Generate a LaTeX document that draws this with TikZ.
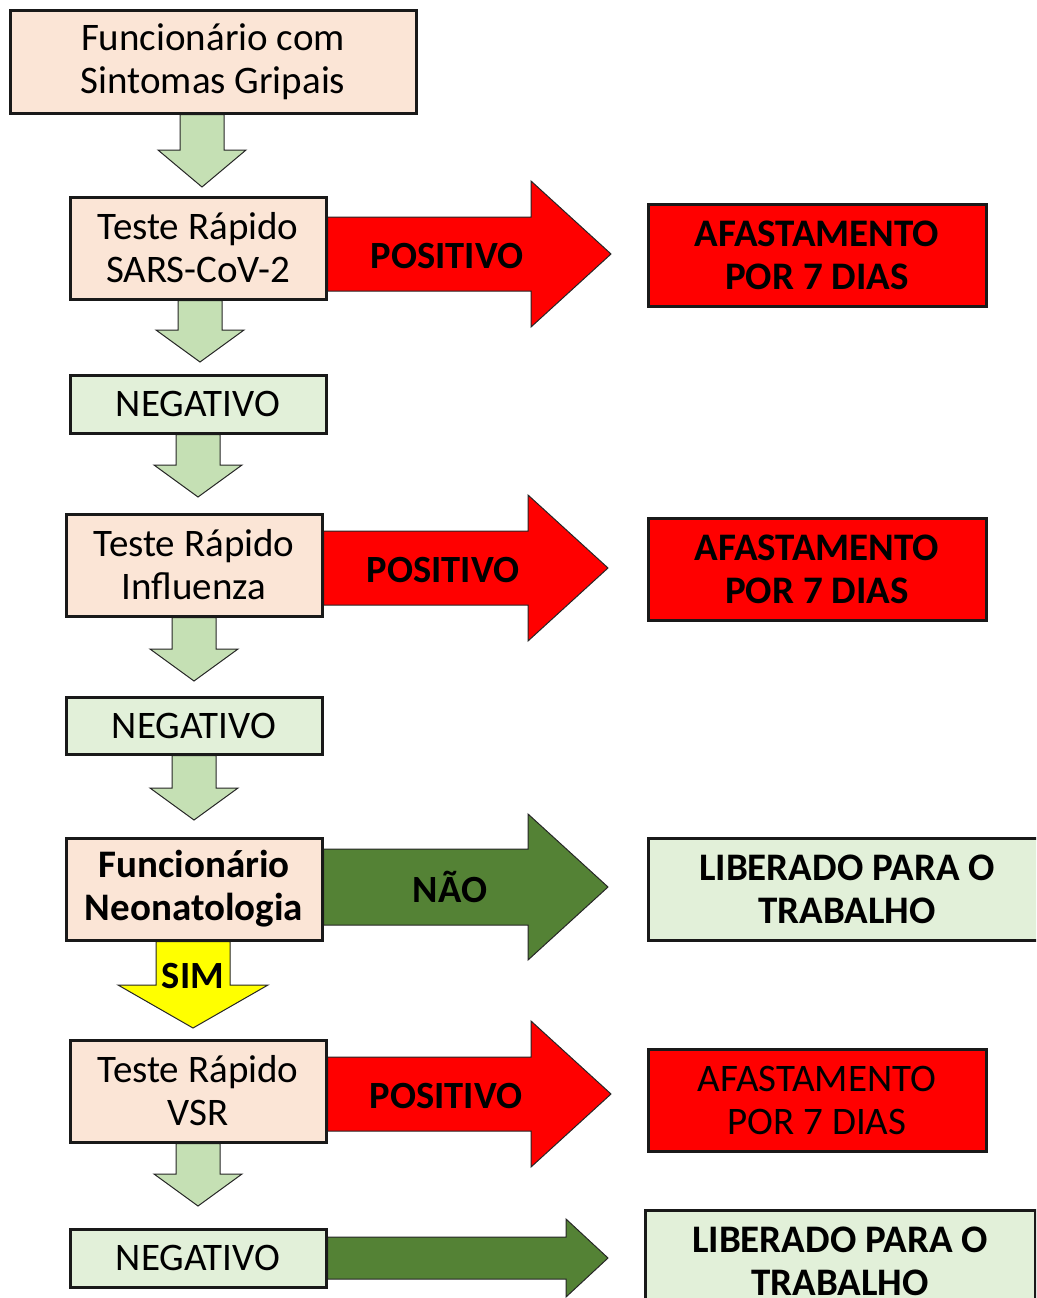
\documentclass[tikz,border=0pt]{standalone}
\usepackage{fontspec}
\setmainfont{Carlito}
\usetikzlibrary{calc,backgrounds}
\definecolor{peach}{HTML}{FBE5D6}
\definecolor{lgreen}{HTML}{E2F0D9}
\definecolor{agreen}{HTML}{C5E0B4}
\definecolor{dgreen}{HTML}{548235}
\definecolor{pred}{HTML}{FF0000}
\definecolor{pyellow}{HTML}{FFFF00}
% vertical block arrow: style, start, tip, shaft half, head half, head length
\newcommand{\vblock}[6]{%
  \draw[#1] let \p1=(#2), \p2=(#3) in
    (\x1-#4pt,\y1) -- (\x1-#4pt,\y2+#6pt) -- (\x1-#5pt,\y2+#6pt) -- (\x1,\y2)
    -- (\x1+#5pt,\y2+#6pt) -- (\x1+#4pt,\y2+#6pt) -- (\x1+#4pt,\y1) -- cycle;}
% horizontal block arrow: style, start, tip, shaft half, head half, head length
\newcommand{\hblock}[6]{%
  \draw[#1] let \p1=(#2), \p2=(#3) in
    (\x1,\y1+#4pt) -- (\x2-#6pt,\y1+#4pt) -- (\x2-#6pt,\y1+#5pt) -- (\x2,\y1)
    -- (\x2-#6pt,\y1-#5pt) -- (\x2-#6pt,\y1-#4pt) -- (\x1,\y1-#4pt) -- cycle;}
\tikzset{
  box/.style={draw=black!90, line width=3pt, minimum width=256pt, minimum height=102pt,
    align=center, inner sep=0pt, font=\fontsize{39}{43}\selectfont},
  boldbox/.style={box, font=\fontsize{39}{43}\selectfont\bfseries},
  peachbox/.style={box, fill=peach},
  negbox/.style={box, fill=lgreen, minimum height=58pt},
  redbox/.style={boldbox, fill=pred, minimum width=338pt},
  libbox/.style={boldbox, fill=lgreen},
  blk/.style={draw=black!85, line width=1pt},
  lbl/.style={font=\fontsize{38.5}{43}\selectfont\bfseries, inner sep=0pt}
}
\begin{document}
\begin{tikzpicture}[x=1pt,y=-1pt]
\useasboundingbox (0,0) rectangle (1036,1298);
\clip (0,0) rectangle (1036,1298);
% boxes
\node[peachbox, minimum width=406pt] (A) at (213,62) {Funcionário com\\Sintomas Gripais};
\node[peachbox] (B) at (198,248) {Teste Rápido\\SARS-CoV-2};
\node[redbox] (R1) at (817,255) {AFASTAMENTO\\POR 7 DIAS};
\node[negbox] (C) at (198,404) {NEGATIVO};
\node[peachbox] (D) at (194,565) {Teste Rápido\\Influenza};
\node[redbox] (R2) at (817,569) {AFASTAMENTO\\POR 7 DIAS};
\node[negbox, minimum height=57pt] (E) at (194,725.5) {NEGATIVO};
\node[boldbox, fill=peach] (F) at (194,889) {Funcionário\\Neonatologia};
\node[libbox, minimum width=398pt] (L1) at (847,889) {LIBERADO PARA O\\TRABALHO};
\node[peachbox] (G) at (198,1091) {Teste Rápido\\VSR};
\node[box, fill=pred, minimum width=338pt] (R3) at (817,1100) {AFASTAMENTO\\POR 7 DIAS};
\node[negbox] (H) at (198,1258) {NEGATIVO};
\node[libbox, minimum width=390pt] (L2) at (840,1261) {LIBERADO PARA O\\TRABALHO};
% arrow tips
\coordinate (tA) at (202,187);
\coordinate (tB) at (200,362);
\coordinate (tC) at (198,497);
\coordinate (tD) at (194,681);
\coordinate (tE) at (194,820);
\coordinate (tF) at (193,1028);
\coordinate (tG) at (198,1206);
\coordinate (p1) at (611,254);
\coordinate (p2) at (608,568);
\coordinate (p3) at (608,887);
\coordinate (p4) at (611,1094);
\coordinate (p5) at (608,1258);
\begin{scope}[on background layer]
\vblock{blk, fill=agreen}{A.south -| tA}{tA}{22}{44}{37}
\vblock{blk, fill=agreen}{B.south -| tB}{tB}{22}{44}{32}
\vblock{blk, fill=agreen}{C.south -| tC}{tC}{22}{44}{32}
\vblock{blk, fill=agreen}{D.south -| tD}{tD}{22}{44}{32}
\vblock{blk, fill=agreen}{E.south -| tE}{tE}{22}{44}{32}
\vblock{blk, fill=pyellow}{F.south -| tF}{tF}{37}{75}{43}
\vblock{blk, fill=agreen}{G.south -| tG}{tG}{22}{44}{32}
\hblock{blk, fill=pred}{B.east |- p1}{p1}{37}{73}{80}
\hblock{blk, fill=pred}{D.east |- p2}{p2}{37}{73}{80}
\hblock{blk, fill=dgreen}{F.east |- p3}{p3}{38}{73}{80}
\hblock{blk, fill=pred}{G.east |- p4}{p4}{37}{73}{80}
\hblock{blk, fill=dgreen}{H.east |- p5}{p5}{21}{39}{42}
\end{scope}
% arrow labels
\node[lbl] (l1) at (447,256) {POSITIVO};
\node[lbl] (l2) at (443,570) {POSITIVO};
\node[lbl] (l3) at (450,887) {NÃO};
\node[lbl] (l4) at (446,1096) {POSITIVO};
\node[lbl] (l5) at (193,976) {SIM};
\end{tikzpicture}
\end{document}
